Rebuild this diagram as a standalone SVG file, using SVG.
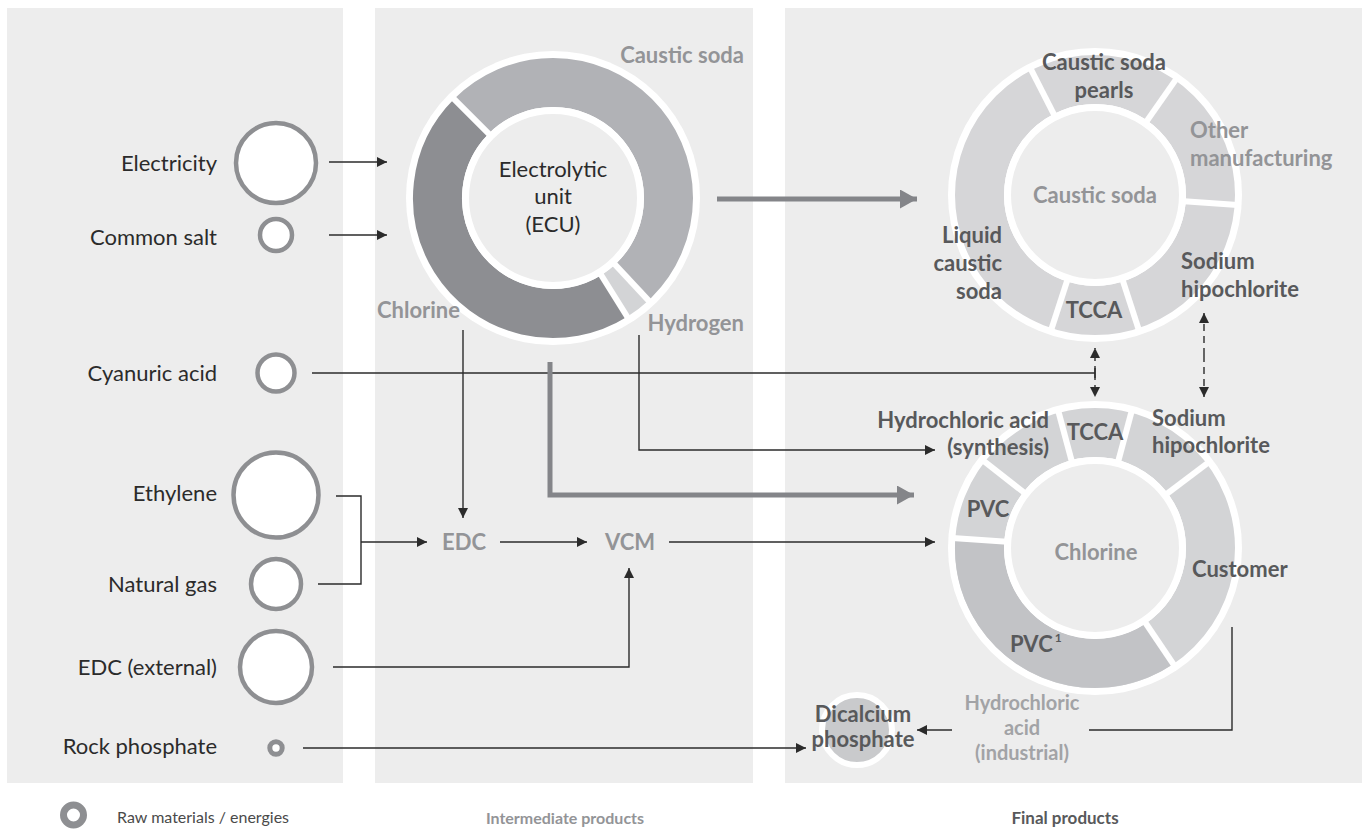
<svg xmlns="http://www.w3.org/2000/svg" width="1368" height="830" viewBox="0 0 1368 830">
  <style>
    text { font-family: Lato, "Open Sans", "Liberation Sans", sans-serif; }
    .panel { fill: #ededed; }
    .raw { fill: #ffffff; stroke: #8e8f92; stroke-width: 4.5; }
    .lbl { font-size: 22px; fill: #2b2b2b; }
    .gb { font-size: 22px; font-weight: bold; fill: #939497; }
    .lg { font-size: 20px; font-weight: bold; fill: #a2a3a6; }
    .db { font-size: 22px; font-weight: bold; fill: #58595b; }
    .thin { fill: none; stroke: #2b2b2b; stroke-width: 1.4; }
    .dash { fill: none; stroke: #2b2b2b; stroke-width: 1.4; stroke-dasharray: 7 5; }
    .thick { fill: none; stroke: #848589; stroke-width: 5; }
    .gap { stroke: #ffffff; stroke-width: 6; }
    .inner { fill: #ededed; stroke: #ffffff; stroke-width: 7; }
    .legend { font-size: 16px; fill: #4a4a4a; }
  </style>
  <defs>
    <marker id="ah" viewBox="0 0 10 10" refX="10" refY="5" markerWidth="10" markerHeight="10" markerUnits="userSpaceOnUse" orient="auto">
      <path d="M0,0 L10,5 L0,10 z" fill="#2b2b2b"/>
    </marker>
    <marker id="ahT" viewBox="0 0 17 19" refX="17" refY="9.5" markerWidth="17" markerHeight="19" markerUnits="userSpaceOnUse" orient="auto">
      <path d="M0,0 L17,9.5 L0,19 z" fill="#848589"/>
    </marker>
  </defs>

  <!-- panels -->
  <g id="panels">
    <rect class="panel" x="7" y="8" width="336" height="775"/>
    <rect class="panel" x="375" y="8" width="378" height="775"/>
    <rect class="panel" x="785" y="8" width="577" height="775"/>
  </g>

  <!-- connectors -->
  <g id="connectors">
    <line class="thin" x1="329" y1="162" x2="387" y2="162" marker-end="url(#ah)"/>
    <line class="thin" x1="329" y1="235" x2="387" y2="235" marker-end="url(#ah)"/>
    <polyline class="thin" points="312,373 1095,373"/>
    <line class="thin" x1="1095" y1="368" x2="1095" y2="378"/>
    <line class="dash" x1="1095" y1="373" x2="1095" y2="348" marker-end="url(#ah)"/>
    <line class="dash" x1="1095" y1="373" x2="1095" y2="397" marker-end="url(#ah)"/>
    <line class="dash" x1="1204" y1="355" x2="1204" y2="313" marker-end="url(#ah)"/>
    <line class="dash" x1="1204" y1="355" x2="1204" y2="397" marker-end="url(#ah)"/>
    <polyline class="thin" points="336,496 361,496 361,584 318,584"/>
    <line class="thin" x1="361" y1="542" x2="427" y2="542" marker-end="url(#ah)"/>
    <line class="thin" x1="500" y1="542" x2="587" y2="542" marker-end="url(#ah)"/>
    <line class="thin" x1="669" y1="542" x2="935" y2="542" marker-end="url(#ah)"/>
    <line class="thin" x1="463" y1="330" x2="463" y2="518" marker-end="url(#ah)"/>
    <polyline class="thin" points="639,335 639,450 935,450" marker-end="url(#ah)"/>
    <polyline class="thin" points="333,667 629,667 629,568" marker-end="url(#ah)"/>
    <line class="thin" x1="303" y1="748" x2="806" y2="748" marker-end="url(#ah)"/>
    <polyline class="thin" points="1232,627 1232,730 1089,730"/>
    <line class="thin" x1="952" y1="730" x2="917" y2="730" marker-end="url(#ah)"/>
    <polyline class="thick" points="550,362 550,495 914,495" marker-end="url(#ahT)"/>
    <line class="thick" x1="717" y1="199" x2="917" y2="199" marker-end="url(#ahT)"/>
  </g>

  <!-- raw materials -->
  <g id="electricity">
    <circle class="raw" cx="276" cy="163" r="40"/>
    <text class="lbl" x="217" y="171" text-anchor="end">Electricity</text>
  </g>
  <g id="common-salt">
    <circle class="raw" cx="276" cy="235" r="16"/>
    <text class="lbl" x="217" y="245" text-anchor="end">Common salt</text>
  </g>
  <g id="cyanuric-acid">
    <circle class="raw" cx="276" cy="373" r="18.5"/>
    <text class="lbl" x="217" y="381" text-anchor="end">Cyanuric acid</text>
  </g>
  <g id="ethylene">
    <circle class="raw" cx="276" cy="495" r="42.5"/>
    <text class="lbl" x="217" y="501" text-anchor="end">Ethylene</text>
  </g>
  <g id="natural-gas">
    <circle class="raw" cx="276" cy="584" r="25"/>
    <text class="lbl" x="217" y="592" text-anchor="end">Natural gas</text>
  </g>
  <g id="edc-external">
    <circle class="raw" cx="276" cy="667" r="36"/>
    <text class="lbl" x="217" y="675" text-anchor="end">EDC (external)</text>
  </g>
  <g id="rock-phosphate">
    <circle cx="276" cy="748" r="6.2" fill="#ffffff" stroke="#8e8f92" stroke-width="5"/>
    <text class="lbl" x="217" y="754" text-anchor="end">Rock phosphate</text>
  </g>

  <!-- ECU -->
  <g id="ecu">
    <circle cx="553" cy="198" r="147" fill="#ffffff"/>
    <circle cx="553" cy="198" r="115.5" fill="none" stroke="#b1b2b6" stroke-width="49" pathLength="360" stroke-dasharray="182 360" transform="rotate(225 553 198)"/>
    <circle cx="553" cy="198" r="115.5" fill="none" stroke="#d3d4d6" stroke-width="49" pathLength="360" stroke-dasharray="11 360" transform="rotate(47 553 198)"/>
    <circle cx="553" cy="198" r="115.5" fill="none" stroke="#8d8e92" stroke-width="49" pathLength="360" stroke-dasharray="167 360" transform="rotate(58 553 198)"/>
    <line class="gap" x1="553" y1="198" x2="696" y2="198" transform="rotate(225 553 198)"/>
    <line class="gap" x1="553" y1="198" x2="696" y2="198" transform="rotate(47 553 198)"/>
    <line class="gap" x1="553" y1="198" x2="696" y2="198" transform="rotate(58 553 198)"/>
    <circle class="inner" cx="553" cy="198" r="87.5"/>
    <text class="lbl" x="553" y="177" text-anchor="middle">Electrolytic</text>
    <text class="lbl" x="553" y="204" text-anchor="middle">unit</text>
    <text class="lbl" x="553" y="232" text-anchor="middle">(ECU)</text>
    <text class="gb" x="744" y="63" text-anchor="end">Caustic soda</text>
    <text class="gb" x="377" y="318">Chlorine</text>
    <text class="gb" x="744" y="331" text-anchor="end">Hydrogen</text>
  </g>

  <g id="edc">
    <text class="gb" x="464" y="550" text-anchor="middle">EDC</text>
  </g>
  <g id="vcm">
    <text class="gb" x="630" y="550" text-anchor="middle">VCM</text>
  </g>

  <!-- Caustic soda ring -->
  <g id="caustic-soda-ring">
    <circle cx="1095" cy="195" r="147" fill="#ffffff"/>
    <circle cx="1095" cy="195" r="115.5" fill="none" stroke="#d6d6d8" stroke-width="49"/>
    <line class="gap" x1="1095" y1="195" x2="1238" y2="195" transform="rotate(108 1095 195)"/>
    <line class="gap" x1="1095" y1="195" x2="1238" y2="195" transform="rotate(243 1095 195)"/>
    <line class="gap" x1="1095" y1="195" x2="1238" y2="195" transform="rotate(305 1095 195)"/>
    <line class="gap" x1="1095" y1="195" x2="1238" y2="195" transform="rotate(4 1095 195)"/>
    <line class="gap" x1="1095" y1="195" x2="1238" y2="195" transform="rotate(72 1095 195)"/>
    <circle class="inner" cx="1095" cy="195" r="87.5"/>
    <text class="gb" x="1095" y="203" text-anchor="middle">Caustic soda</text>
    <text class="db" x="1104" y="70" text-anchor="middle">Caustic soda</text>
    <text class="db" x="1104" y="98" text-anchor="middle">pearls</text>
    <text class="gb" x="1190" y="138">Other</text>
    <text class="gb" x="1190" y="166">manufacturing</text>
    <text class="db" x="1002" y="243" text-anchor="end">Liquid</text>
    <text class="db" x="1002" y="271" text-anchor="end">caustic</text>
    <text class="db" x="1002" y="299" text-anchor="end">soda</text>
    <text class="db" x="1181" y="269">Sodium</text>
    <text class="db" x="1181" y="297">hipochlorite</text>
    <text class="db" x="1094" y="318" text-anchor="middle">TCCA</text>
  </g>

  <!-- Chlorine ring -->
  <g id="chlorine-ring">
    <circle cx="1095" cy="548" r="147" fill="#ffffff"/>
    <circle cx="1095" cy="548" r="115.5" fill="none" stroke="#d3d4d6" stroke-width="49"/>
    <circle cx="1095" cy="548" r="115.5" fill="none" stroke="#c2c3c6" stroke-width="49" pathLength="360" stroke-dasharray="128 360" transform="rotate(56 1095 548)"/>
    <line class="gap" x1="1095" y1="548" x2="1238" y2="548" transform="rotate(255 1095 548)"/>
    <line class="gap" x1="1095" y1="548" x2="1238" y2="548" transform="rotate(285 1095 548)"/>
    <line class="gap" x1="1095" y1="548" x2="1238" y2="548" transform="rotate(323 1095 548)"/>
    <line class="gap" x1="1095" y1="548" x2="1238" y2="548" transform="rotate(56 1095 548)"/>
    <line class="gap" x1="1095" y1="548" x2="1238" y2="548" transform="rotate(184 1095 548)"/>
    <line class="gap" x1="1095" y1="548" x2="1238" y2="548" transform="rotate(218 1095 548)"/>
    <circle class="inner" cx="1095" cy="548" r="87.5"/>
    <text class="gb" x="1096" y="560" text-anchor="middle">Chlorine</text>
    <text class="db" x="1049" y="428" text-anchor="end">Hydrochloric acid</text>
    <text class="db" x="1049" y="455" text-anchor="end">(synthesis)</text>
    <text class="db" x="1095" y="440" text-anchor="middle">TCCA</text>
    <text class="db" x="1152" y="426">Sodium</text>
    <text class="db" x="1152" y="453">hipochlorite</text>
    <text class="db" x="988" y="517" text-anchor="middle">PVC</text>
    <text class="db" x="1192" y="577">Customer</text>
    <text class="db" x="1010" y="652">PVC<tspan font-size="12" dx="2" dy="-10">1</tspan></text>
  </g>

  <g id="hcl-industrial">
    <text class="lg" x="1022" y="710" text-anchor="middle">Hydrochloric</text>
    <text class="lg" x="1022" y="735" text-anchor="middle">acid</text>
    <text class="lg" x="1022" y="760" text-anchor="middle">(industrial)</text>
  </g>

  <g id="dicalcium-phosphate">
    <circle cx="857" cy="730" r="35" fill="#c9cacc" stroke="#ffffff" stroke-width="6"/>
    <text class="db" x="863" y="722" text-anchor="middle">Dicalcium</text>
    <text class="db" x="863" y="747" text-anchor="middle">phosphate</text>
  </g>

  <!-- legend -->
  <g id="legend">
    <circle cx="73.5" cy="815" r="10" fill="none" stroke="#8e8f92" stroke-width="7"/>
    <text class="legend" x="117" y="823">Raw materials / energies</text>
    <text x="565" y="824" text-anchor="middle" font-size="16" font-weight="bold" fill="#939497">Intermediate products</text>
    <text x="1065" y="824" text-anchor="middle" font-size="17" font-weight="bold" fill="#58595b">Final products</text>
  </g>
</svg>
